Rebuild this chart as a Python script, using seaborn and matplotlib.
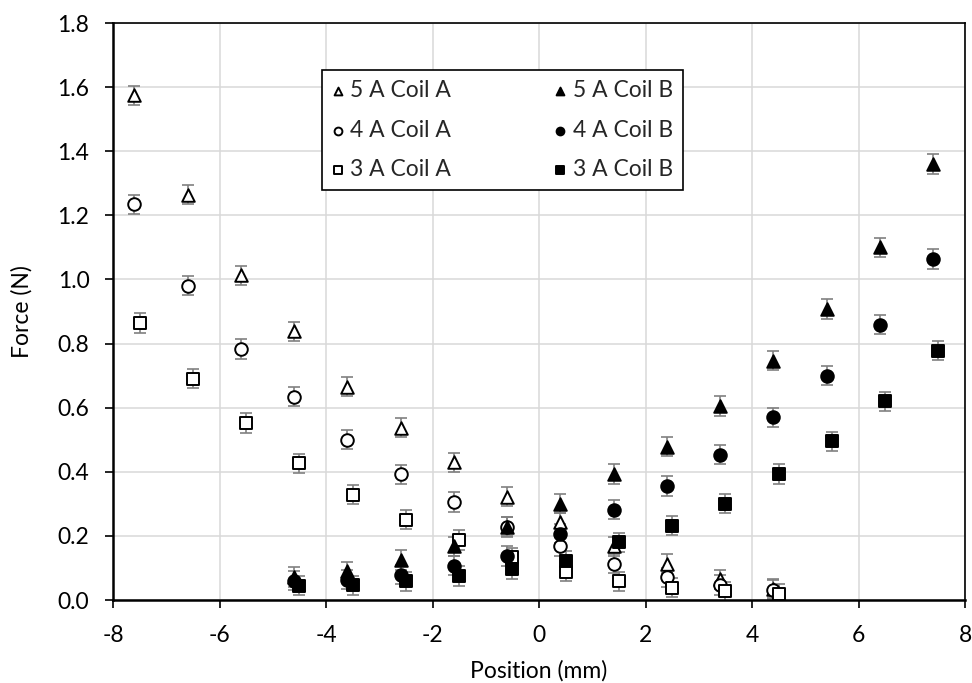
# Force vs. position for coils A and B at 3, 4 and 5 A, with error bars

import numpy as np
import pandas as pd
import matplotlib
matplotlib.use("Agg")
import matplotlib.pyplot as plt
import seaborn as sns

# positions (mm)
POS_TRI_A = [-7.6, -6.6, -5.6, -4.6, -3.6, -2.6, -1.6, -0.6, 0.4, 1.4, 2.4, 3.4, 4.4]
POS_SQ_A = [-7.5, -6.5, -5.5, -4.5, -3.5, -2.5, -1.5, -0.5, 0.5, 1.5, 2.5, 3.5, 4.5]
POS_TRI_B = [-4.6, -3.6, -2.6, -1.6, -0.6, 0.4, 1.4, 2.4, 3.4, 4.4, 5.4, 6.4, 7.4]
POS_SQ_B = [-4.5, -3.5, -2.5, -1.5, -0.5, 0.5, 1.5, 2.5, 3.5, 4.5, 5.5, 6.5, 7.5]

# forces (N)
F5A = [1.575, 1.265, 1.013, 0.838, 0.665, 0.538, 0.43, 0.322, 0.243, 0.168, 0.113, 0.065, 0.035]
F4A = [1.235, 0.98, 0.783, 0.634, 0.50, 0.392, 0.306, 0.229, 0.167, 0.113, 0.071, 0.047, 0.032]
F3A = [0.864, 0.69, 0.552, 0.426, 0.329, 0.25, 0.187, 0.133, 0.088, 0.058, 0.039, 0.027, 0.02]
F5B = [0.072, 0.09, 0.125, 0.168, 0.228, 0.30, 0.393, 0.478, 0.605, 0.746, 0.908, 1.10, 1.36]
F4B = [0.06, 0.063, 0.079, 0.107, 0.137, 0.207, 0.282, 0.356, 0.453, 0.57, 0.70, 0.859, 1.064]
F3B = [0.045, 0.046, 0.058, 0.075, 0.097, 0.123, 0.18, 0.232, 0.30, 0.393, 0.495, 0.62, 0.778]
ERR = 0.03

SERIES = [
    ("5 A Coil A", POS_TRI_A, F5A, "^", "white"),
    ("4 A Coil A", POS_TRI_A, F4A, "o", "white"),
    ("3 A Coil A", POS_SQ_A, F3A, "s", "white"),
    ("5 A Coil B", POS_TRI_B, F5B, "^", "black"),
    ("4 A Coil B", POS_TRI_B, F4B, "o", "black"),
    ("3 A Coil B", POS_SQ_B, F3B, "s", "black"),
]

sns.set_theme(style="whitegrid")
plt.rcParams["font.family"] = ["Lato", "DejaVu Sans"]
plt.rcParams["axes.unicode_minus"] = False
FS = 16.5

fig = plt.figure(figsize=(9.72, 6.83), dpi=100)
ax = fig.add_axes([0.1163, 0.1215, 0.8765, 0.8448])

for label, xs, ys, mk, fc in SERIES:
    ax.errorbar(xs, ys, yerr=ERR, fmt="none", ecolor="#808080",
                elinewidth=1.2, capsize=4, capthick=1.2, zorder=2)
    df = pd.DataFrame({"x": xs, "y": ys})
    sns.scatterplot(data=df, x="x", y="y", marker=mk, s=82, color=fc,
                    edgecolor="black", linewidth=1.4, label=label, ax=ax, zorder=3)

ax.set_xlim(-8, 8)
ax.set_ylim(0, 1.8)
ax.set_xticks(np.arange(-8, 9, 2))
ax.set_yticks(np.arange(0, 1.81, 0.2))
ax.set_yticklabels([f"{v:.1f}" for v in np.arange(0, 1.81, 0.2)])
ax.set_xlabel("Position (mm)", fontsize=FS, color="black", va="center")
ax.set_ylabel("Force (N)", fontsize=FS, color="black", va="center")
ax.xaxis.set_label_coords(0.5, -0.122)
ax.yaxis.set_label_coords(-0.107, 0.5)
ax.tick_params(axis="both", labelsize=FS, colors="black", length=6, width=1.2,
               direction="out", left=True, bottom=True)
ax.tick_params(axis="x", pad=12)
ax.tick_params(axis="y", pad=11)
ax.grid(True, color="#d9d9d9", linewidth=1.1)
ax.set_facecolor("white")
for side, sp in ax.spines.items():
    sp.set_color("black")
    sp.set_linewidth(1.8 if side in ("left", "bottom") else 1.2)
    sp.set_visible(True)

h, l = ax.get_legend_handles_labels()
leg = ax.legend(h, l, ncol=2, loc="upper left", bbox_to_anchor=(0.245, 0.9185),
                borderaxespad=0, fontsize=FS, frameon=True, fancybox=False,
                edgecolor="black", borderpad=0.45, labelspacing=0.8,
                columnspacing=4.5, handletextpad=0.3, handlelength=0.5,
                markerscale=0.62)
leg.get_frame().set_linewidth(1.2)
leg.get_frame().set_alpha(1)

fig.savefig("out.png", dpi=100)
plt.close(fig)
